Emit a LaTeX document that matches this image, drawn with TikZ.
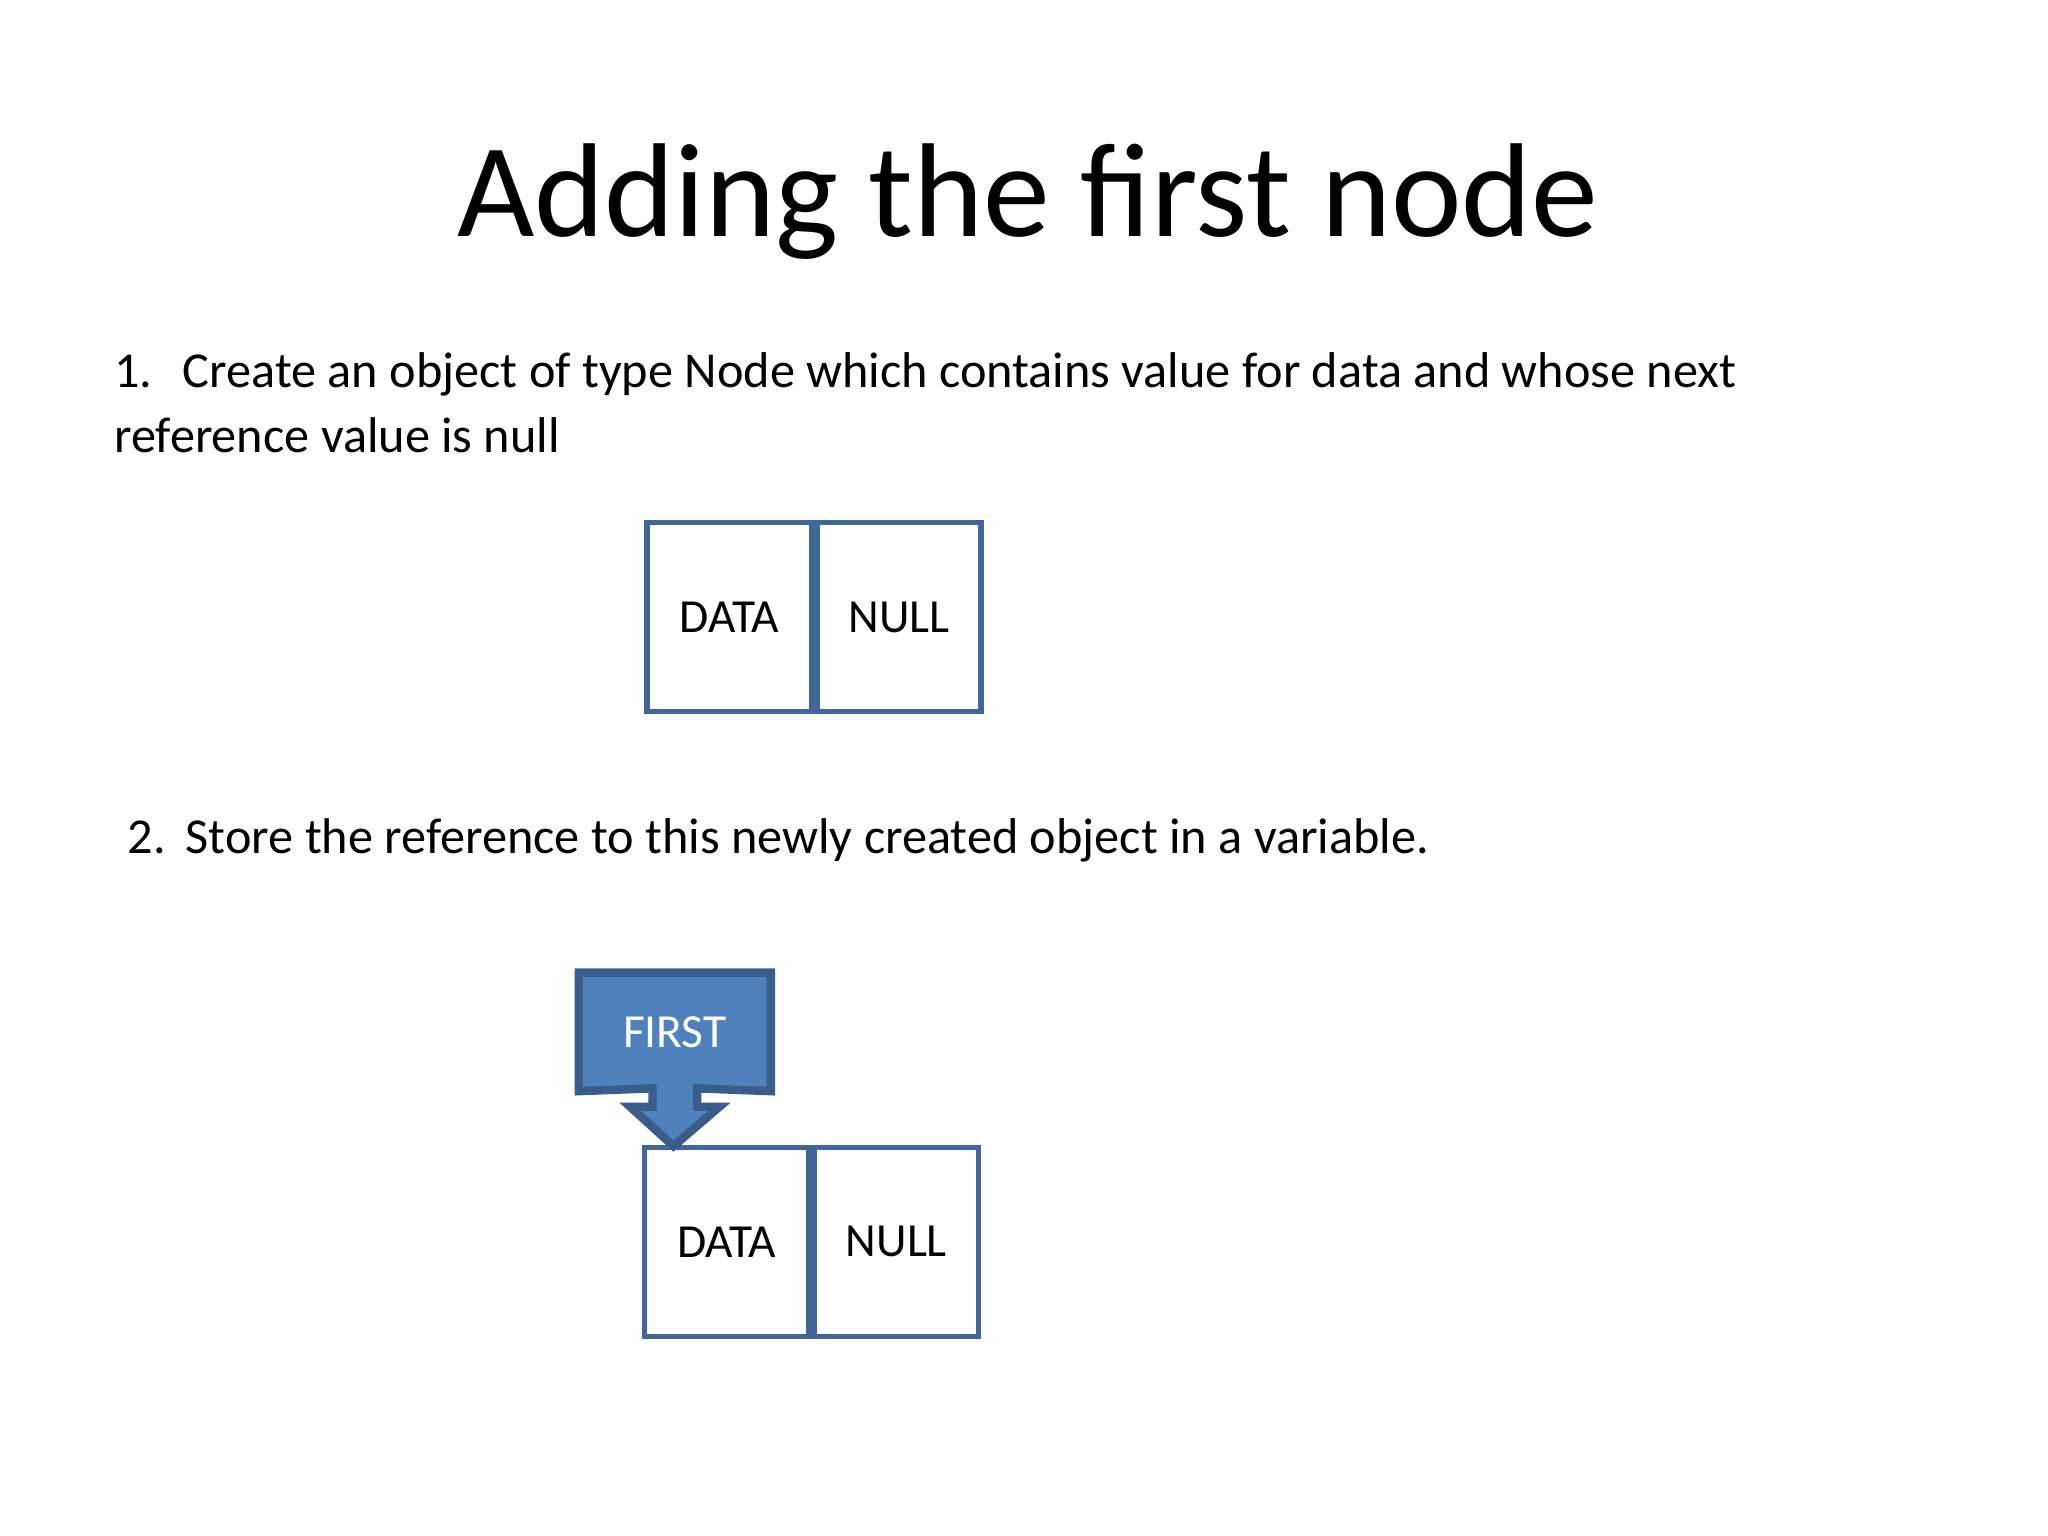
\documentclass[tikz,border=0pt]{standalone}
\usepackage{fontspec}
\setmainfont{Carlito}
\usetikzlibrary{positioning}
\definecolor{boxline}{HTML}{41679A}
\definecolor{callfill}{HTML}{4F81BD}
\definecolor{callline}{HTML}{385D8A}
\newlength{\pxu}
\setlength{\pxu}{0.01313cm}
\tikzset{every path/.style={line width=1.6pt}}
\tikzset{cell/.style={rectangle,draw=boxline,minimum width=125\pxu,minimum height=144\pxu,inner sep=0pt,font=\fontsize{13.5}{16}\selectfont}}

\begin{document}
\begin{tikzpicture}[x=\pxu,y=-\pxu]
    \useasboundingbox (0,0) rectangle (1560,1170);
    \node[anchor=base] (title) at (783,180) {\fontsize{38}{44}\selectfont Adding the first node};
    \node[anchor=base west,inner sep=0pt,font=\fontsize{14.3}{17}\selectfont] (s1a) at (85,295) {1.\hspace{0.6em}Create an object of type Node which contains value for data and whose next};
    \node[anchor=base west,inner sep=0pt,font=\fontsize{14.3}{17}\selectfont] (s1b) at (85,345) {reference value is null};
    \node[anchor=base west,inner sep=0pt,font=\fontsize{14.3}{17}\selectfont] (s2) at (95,650) {2.\hspace{0.4em}Store the reference to this newly created object in a variable.};
    % first node
    \node[cell] (data1) at (555.5,470) {DATA};
    \node[cell,right=0pt of data1] (null1) {NULL};
    % second node
    \node[cell] (data2) at (553.5,946) {DATA};
    \node[cell,right=0pt of data2] (null2) {NULL};
    % callout
    \node[rectangle,minimum width=142\pxu,minimum height=86\pxu,inner sep=0pt] (first) at (514,786) {};
    \path[draw=callline,fill=callfill,line width=2.4pt,line join=miter]
    (first.north west) -- (first.north east) -- (first.south east) -- (531,829) -- (531,843) -- (548,843)
    -- (513,873) -- (480,843) -- (497,843) -- (497,829) -- (first.south west) -- cycle;
    \node[text=white,font=\fontsize{13.5}{16}\selectfont] (firstlabel) at (first.center) {FIRST};
\end{tikzpicture}
\end{document}
